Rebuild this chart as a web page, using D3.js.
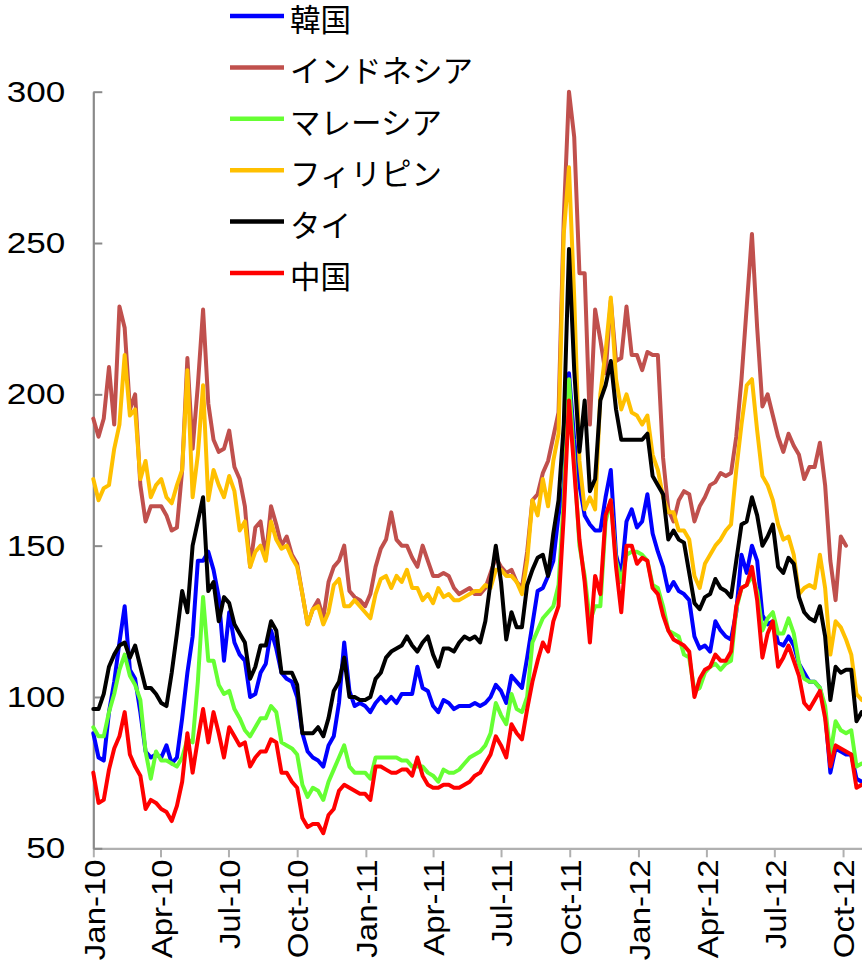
<!DOCTYPE html>
<html><head><meta charset="utf-8">
<script src="https://cdn.jsdelivr.net/npm/d3@7"></script>
<style>
html,body{margin:0;padding:0;background:#fff;overflow:hidden;}
svg{display:block;}
</style></head>
<body>
<svg id="chart" width="862" height="966"></svg>
<script>
// ---- data (weekly observations from 2010-01-01) ----
const seriesNames = ["韓国","インドネシア","マレーシア","フィリピン","タイ","中国"];
const seriesColors = ["#0000FF","#C0504D","#66FF33","#FFC000","#000000","#FF0000"];
const startDate = new Date(2010, 0, 1);
const stepDays = 7;

const korea = [88,80,79,95,105,118,130,109,106,95,82,80,81,80,84,78,80,93,108,120,145,145,148,142,133,112,128,118,
114,112,100,101,108,111,122,116,108,106,105,100,88,82,80,79,77,84,87,98,118,102,97,98,97,95,
98,100,98,100,98,101,101,101,110,103,102,97,95,99,98,96,97,97,97,98,97,98,100,104,102,98,107,105,
103,113,124,135,136,140,145,160,170,207,185,170,160,157,155,
155,166,175,147,140,158,162,156,158,167,154,148,143,135,138,135,134,132,120,116,117,115,125,122,120,119,128,147,141,150,145,127,124,125,118,117,120,117,111,108,105,105,103,95,75,83,82,81,81,73,72];

const indonesia = [192,186,192,209,190,229,222,195,200,170,158,163,163,163,160,155,156,175,212,182,203,228,197,185,181,182,188,176,
172,163,143,156,158,146,163,157,150,153,147,144,134,124,129,132,126,138,143,145,150,135,133,132,130,134,
143,149,152,161,152,150,150,146,143,150,145,140,140,141,140,136,134,135,136,134,134,136,141,146,143,141,142,138,
136,148,165,167,174,178,186,194,258,300,285,240,240,190,228,
218,207,231,211,212,229,213,213,208,214,213,213,179,162,158,165,168,167,158,163,166,170,171,174,173,174,186,205,229,253,222,196,200,193,186,181,187,183,180,172,176,176,184,170,145,132,153,150];

const malaysia = [90,87,87,95,101,109,114,107,104,99,82,73,82,79,79,78,77,80,86,85,105,133,112,112,104,101,102,96,
93,89,87,90,93,93,97,95,85,84,83,81,71,67,70,69,66,72,76,80,84,77,75,75,75,73,
80,80,80,80,80,79,79,77,77,77,75,74,72,76,75,75,76,78,80,81,82,84,88,98,94,91,101,96,
95,100,118,122,126,128,130,137,165,205,178,150,140,125,130,
130,158,165,145,138,147,148,148,147,145,137,136,130,122,121,120,114,113,102,103,108,110,111,109,111,112,129,136,137,140,135,122,126,128,121,121,126,121,111,106,105,105,103,97,81,92,89,88,89,77,78];

const philippines = [172,165,169,170,182,190,213,193,195,172,178,166,170,172,166,164,170,175,208,166,180,203,165,175,170,166,173,168,
155,158,143,148,150,145,158,152,149,150,146,143,134,124,129,130,124,128,137,139,130,130,132,130,128,126,
134,139,140,136,140,138,142,136,136,132,134,131,136,133,134,132,132,133,134,135,135,137,136,142,142,140,140,138,
134,145,165,160,172,163,178,187,253,275,232,178,162,166,162,
200,214,232,205,195,200,194,193,190,193,180,175,166,161,161,155,155,152,140,136,144,147,150,152,155,157,175,190,203,205,188,173,170,165,157,152,153,147,134,136,137,136,147,136,114,125,123,119,114,101,99];

const thailand = [96,96,101,110,114,117,118,113,117,110,103,103,101,98,97,108,121,135,128,150,158,166,135,138,125,133,131,124,
121,118,106,110,117,117,125,122,108,108,108,104,88,88,88,90,87,93,102,105,113,100,100,99,99,100,
106,108,113,115,116,117,120,117,115,118,120,114,110,116,116,115,118,120,119,120,118,125,138,150,138,119,128,123,
123,137,142,146,147,140,154,165,190,248,208,181,198,168,172,
198,203,211,195,185,185,185,185,185,187,173,170,167,152,155,152,151,141,131,129,133,134,139,136,135,133,145,157,158,166,160,150,153,157,143,141,146,144,133,128,126,125,130,120,99,110,108,109,109,92,95];

const china = [75,65,66,76,83,87,95,81,77,74,63,66,65,63,62,59,64,72,88,75,86,96,85,95,88,80,90,87,
84,85,77,80,82,82,86,85,75,75,72,70,60,57,58,58,55,61,63,69,71,70,69,68,68,66,
77,77,76,75,75,76,76,74,80,74,71,70,70,71,71,70,70,71,72,74,75,78,81,87,84,80,91,88,
86,96,105,112,118,115,125,130,160,198,175,152,138,118,140,
134,160,165,143,128,150,150,144,146,145,136,134,127,122,119,118,117,115,100,106,109,110,114,112,112,115,130,136,137,143,132,113,121,125,110,113,117,112,107,98,96,99,102,93,77,84,83,82,81,70,71];

const yTicks = [50,100,150,200,250,300];
const xTickLabels = ["Jan-10","Apr-10","Jul-10","Oct-10","Jan-11","Apr-11","Jul-11","Oct-11","Jan-12","Apr-12","Jul-12","Oct-12"];

const seriesValues = [korea, indonesia, malaysia, philippines, thailand, china];

// ---- chart ----
const svg = d3.select("#chart");
const x = d3.scaleTime()
  .domain([new Date(2010,0,1), new Date(2012,10,1)])
  .range([93.3, 866.2]);
const y = d3.scaleLinear().domain([50,300]).range([848.3, 91.7]);

const tickDates = d3.timeMonth.every(3).range(new Date(2010,0,1), new Date(2012,9,2));
const fmt = d3.timeFormat("%b-%y");
const yStretch = 1.17;
const xStretch = 1.1;

// x axis
const gx = svg.append("g").attr("transform","translate(0,848.3)")
  .call(d3.axisBottom(x).tickValues(tickDates).tickSizeInner(9).tickSizeOuter(0)
        .tickFormat((d,i) => xTickLabels[i] || fmt(d)));
gx.select(".domain").attr("stroke","#b0b0b0").attr("stroke-width",2.2);
gx.selectAll(".tick line").attr("stroke","#b0b0b0").attr("stroke-width",2);
gx.selectAll("text")
  .attr("transform",`rotate(-90) scale(${xStretch},1)`)
  .attr("text-anchor","end")
  .attr("x",-11/xStretch).attr("y",0).attr("dy","0.36em")
  .attr("fill","#000")
  .style("font-family","'Liberation Sans', Arial, sans-serif")
  .style("font-size","30px");

// y axis
const gy = svg.append("g").attr("transform","translate(93.3,0)")
  .call(d3.axisLeft(y).tickValues(yTicks).tickSizeInner(-9).tickSizeOuter(0).tickPadding(28));
gy.select(".domain").attr("stroke","#8a8a8a").attr("stroke-width",2.2);
gy.selectAll(".tick line").attr("stroke","#8a8a8a").attr("stroke-width",2);
gy.selectAll("text")
  .attr("x", -28/yStretch)
  .attr("transform",`scale(${yStretch},1)`)
  .attr("fill","#000")
  .style("font-family","'Liberation Sans', Arial, sans-serif")
  .style("font-size","30px");

// lines
const line = d3.line()
  .x((d,i) => x(d3.timeDay.offset(startDate, stepDays*i)))
  .y(d => y(d));

seriesValues.forEach((vals, si) => {
  svg.append("path")
    .datum(vals)
    .attr("d", line)
    .attr("fill","none")
    .attr("stroke", seriesColors[si])
    .attr("stroke-width", 4)
    .attr("stroke-linejoin","round")
    .attr("stroke-linecap","round");
});

// legend
const legendY = d3.scaleLinear().domain([0,5]).range([16,273]);
const lg = svg.append("g");
seriesNames.forEach((name, i) => {
  const ly = legendY(i);
  lg.append("line").attr("x1",230).attr("x2",284).attr("y1",ly).attr("y2",ly)
    .attr("stroke", seriesColors[i]).attr("stroke-width",4.5);
  lg.append("text").attr("x",290).attr("y",ly+15)
    .text(name)
    .style("font-family","'Noto Sans CJK JP', sans-serif")
    .style("font-size","30.5px")
    .attr("fill","#000");
});
</script>
</body></html>
